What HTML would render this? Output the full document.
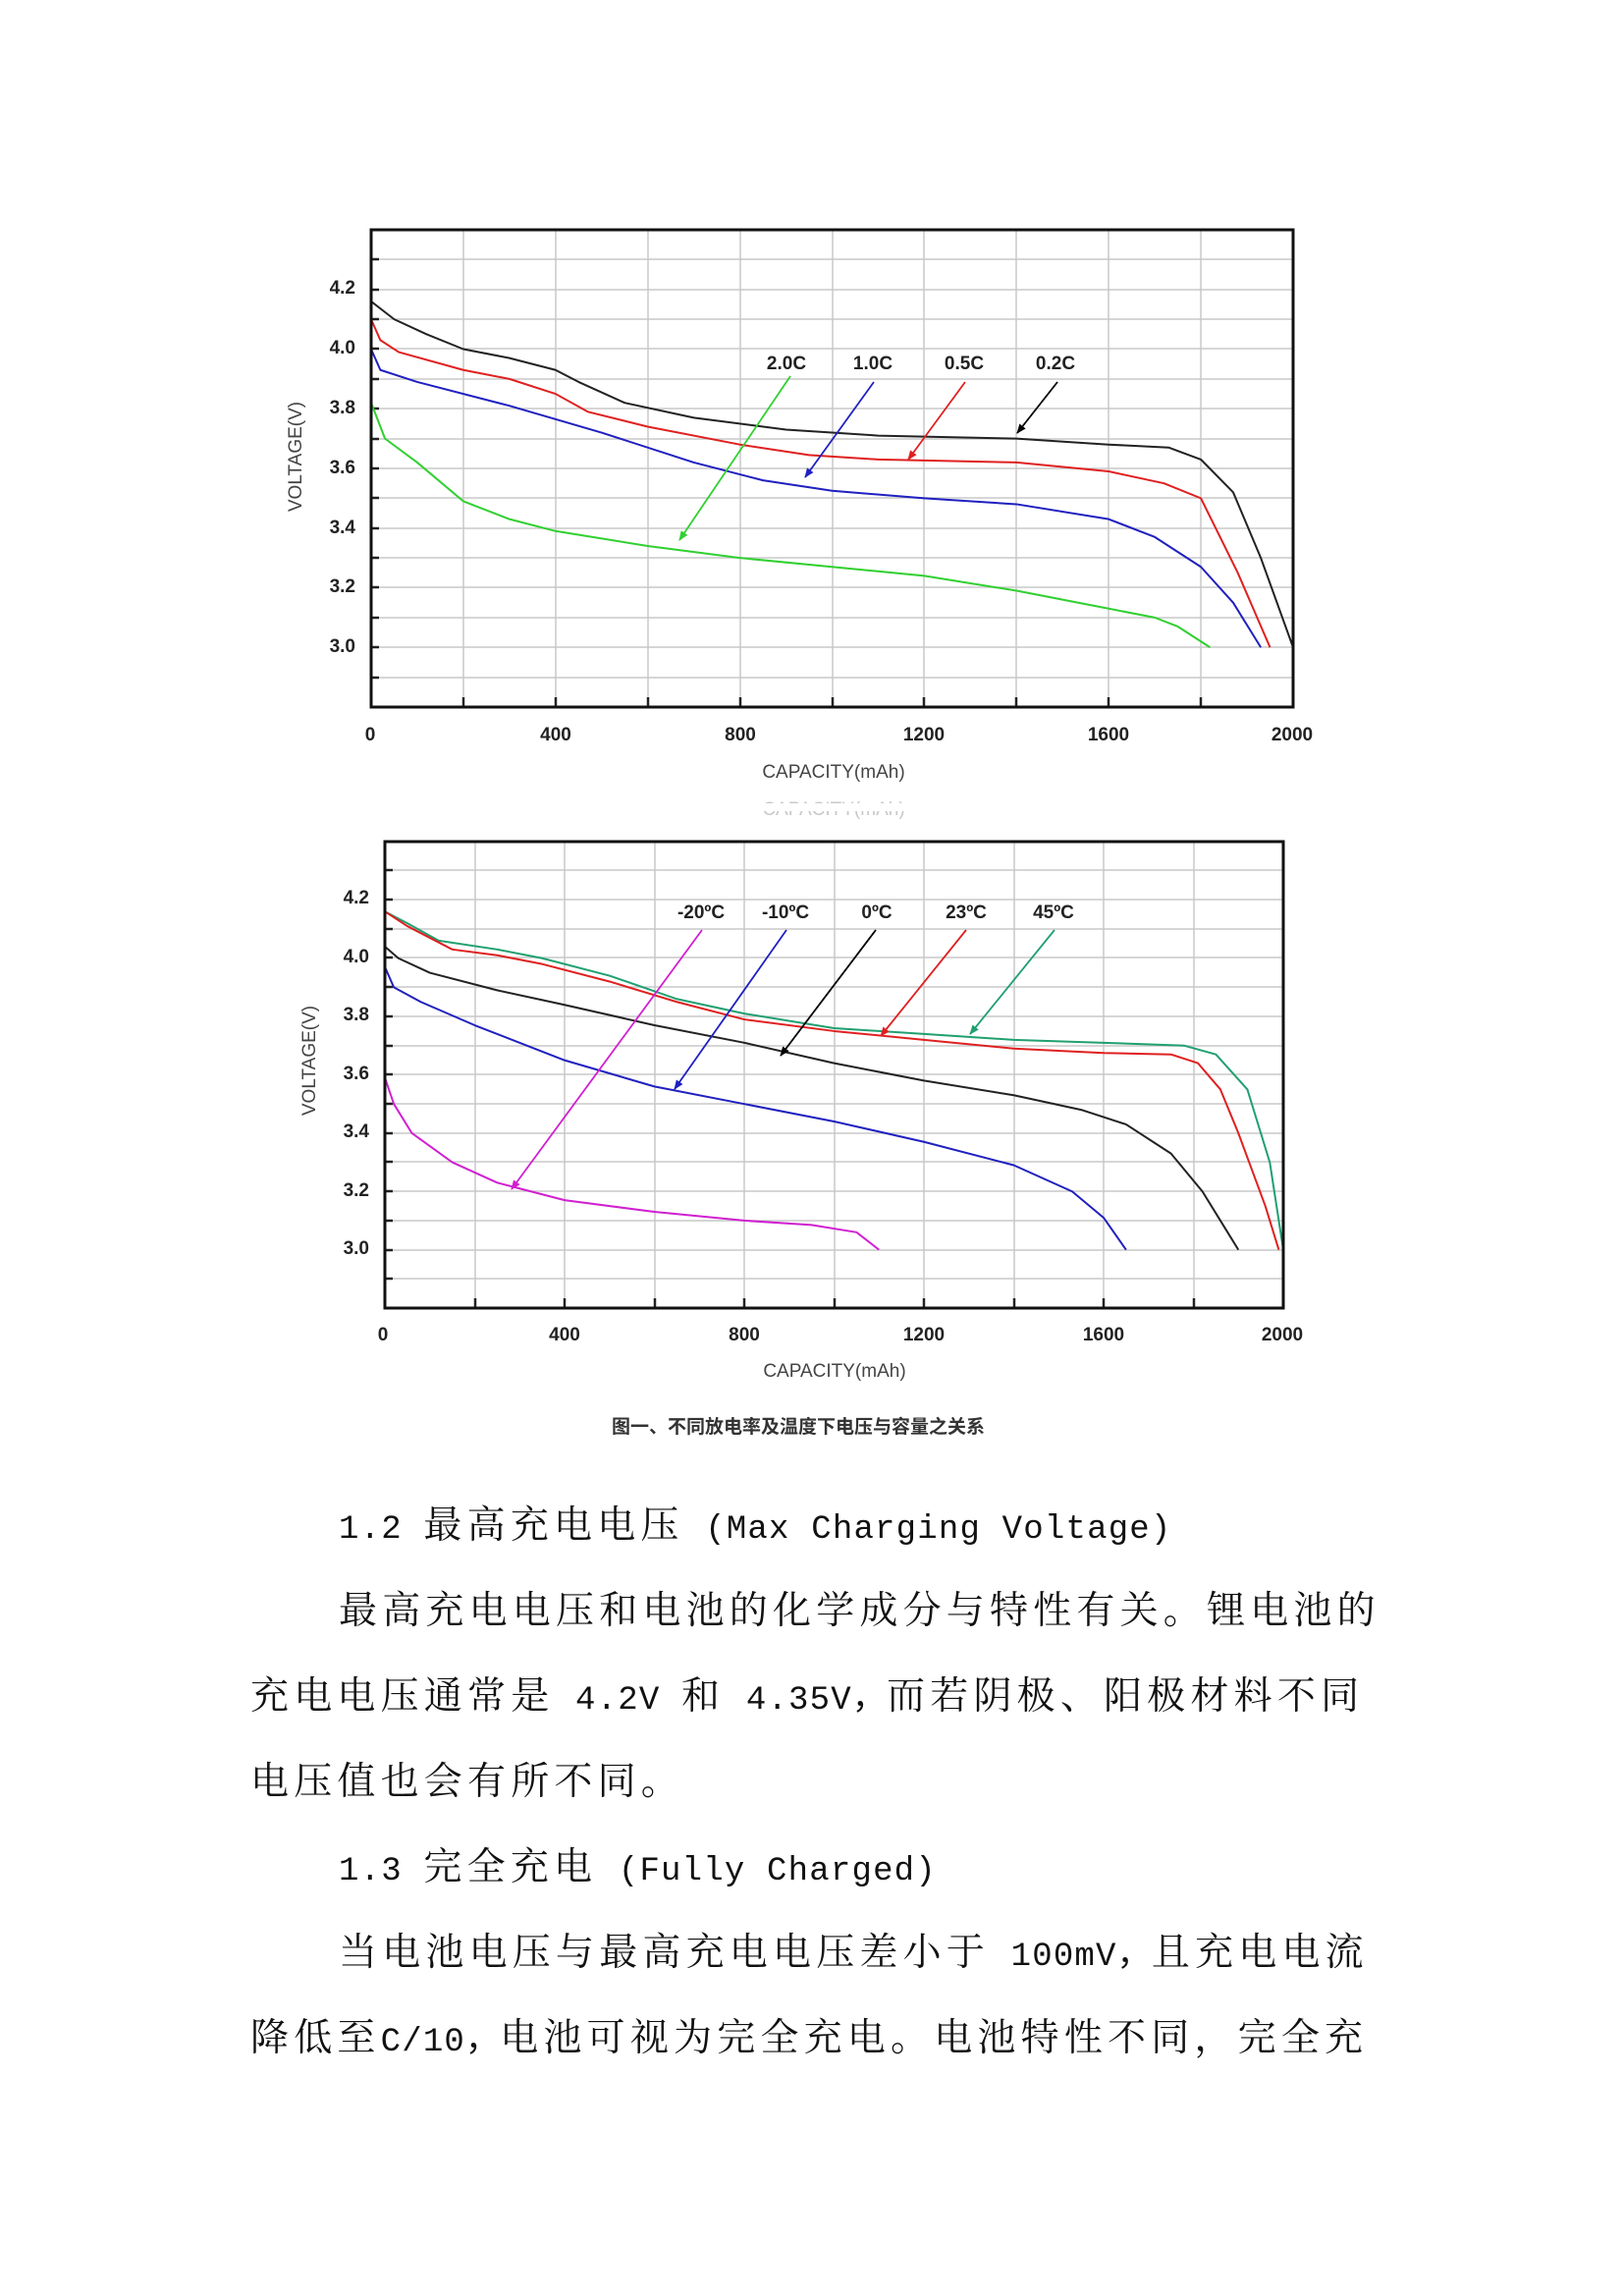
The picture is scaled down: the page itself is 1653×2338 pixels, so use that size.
<!DOCTYPE html>
<html><head><meta charset="utf-8"><style>
html,body{margin:0;padding:0;background:#fff}
body{width:1653px;height:2338px;position:relative;overflow:hidden}
.t{position:absolute;white-space:nowrap;font-family:"Liberation Serif","Noto Serif CJK SC",serif;font-size:39px;letter-spacing:5.2px;line-height:60px;color:#111}
.m{font-family:"Liberation Mono",monospace;font-size:34px;letter-spacing:1.2px}
svg text{font-family:"Liberation Sans",sans-serif}
.tk{font-size:19px;font-weight:bold;fill:#222}
.ax{font-size:19px;fill:#444}
</style></head><body>
<svg width="1653" height="1500" style="position:absolute;left:0;top:0">
<defs>
<marker id="a" markerWidth="8" markerHeight="8" refX="7" refY="4" orient="auto" markerUnits="userSpaceOnUse"><path d="M0,0L8,4L0,8z" fill="context-stroke"/></marker>
<marker id="ak" markerWidth="10" markerHeight="10" refX="9" refY="5" orient="auto" markerUnits="userSpaceOnUse"><path d="M0,1L10,5L0,9z" fill="#000"/></marker>
<marker id="ar" markerWidth="10" markerHeight="10" refX="9" refY="5" orient="auto" markerUnits="userSpaceOnUse"><path d="M0,1L10,5L0,9z" fill="#e02020"/></marker>
<marker id="ab" markerWidth="10" markerHeight="10" refX="9" refY="5" orient="auto" markerUnits="userSpaceOnUse"><path d="M0,1L10,5L0,9z" fill="#2020c0"/></marker>
<marker id="ag" markerWidth="10" markerHeight="10" refX="9" refY="5" orient="auto" markerUnits="userSpaceOnUse"><path d="M0,1L10,5L0,9z" fill="#30d030"/></marker>
<marker id="at" markerWidth="10" markerHeight="10" refX="9" refY="5" orient="auto" markerUnits="userSpaceOnUse"><path d="M0,1L10,5L0,9z" fill="#20a070"/></marker>
<marker id="am" markerWidth="10" markerHeight="10" refX="9" refY="5" orient="auto" markerUnits="userSpaceOnUse"><path d="M0,1L10,5L0,9z" fill="#d020d0"/></marker>
</defs>
<!-- CHART 1 -->
<g stroke="#c8c8c8" stroke-width="1.5">
<path d="M378,264H1317M378,295H1317M378,325H1317M378,355H1317M378,386H1317M378,416H1317M378,447H1317M378,477H1317M378,507H1317M378,538H1317M378,568H1317M378,598H1317M378,629H1317M378,659H1317M378,690H1317"/>
<path d="M472,234V720M566,234V720M660,234V720M754,234V720M848,234V720M941,234V720M1035,234V720M1129,234V720M1223,234V720"/>
</g>
<g stroke="#222" stroke-width="2.5">
<path d="M378,264h8M378,295h8M378,325h8M378,355h8M378,386h8M378,416h8M378,447h8M378,477h8M378,507h8M378,538h8M378,568h8M378,598h8M378,629h8M378,659h8M378,690h8"/>
<path d="M472,720v-10M566,720v-10M660,720v-10M754,720v-10M848,720v-10M941,720v-10M1035,720v-10M1129,720v-10M1223,720v-10"/>
</g>
<g transform="translate(378,720) scale(0.4695,-303.75)" fill="none" stroke-width="2" stroke-linejoin="round">
<polyline vector-effect="non-scaling-stroke" stroke="#222" points="0,1.36 50,1.30 120,1.25 200,1.20 300,1.17 400,1.13 450,1.09 550,1.02 700,0.97 900,0.93 1100,0.91 1400,0.90 1600,0.88 1730,0.87 1800,0.83 1870,0.72 1930,0.5 2000,0.2"/>
<polyline vector-effect="non-scaling-stroke" stroke="#e02020" points="0,1.3 20,1.23 60,1.19 200,1.13 300,1.10 400,1.05 470,0.99 600,0.94 800,0.88 950,0.845 1100,0.83 1400,0.82 1600,0.79 1720,0.75 1800,0.70 1880,0.45 1950,0.2"/>
<polyline vector-effect="non-scaling-stroke" stroke="#2020c0" points="0,1.2 20,1.13 100,1.09 300,1.01 500,0.92 700,0.82 850,0.76 1000,0.725 1200,0.70 1400,0.68 1600,0.63 1700,0.57 1800,0.47 1870,0.35 1930,0.2"/>
<polyline vector-effect="non-scaling-stroke" stroke="#30d030" points="0,1.02 30,0.90 100,0.82 200,0.69 300,0.63 400,0.59 600,0.54 800,0.50 1000,0.47 1200,0.44 1400,0.39 1600,0.33 1700,0.30 1750,0.27 1820,0.2"/>
</g>
<g stroke-width="1.8">
<line x1="805" y1="383" x2="692" y2="550" stroke="#30d030" marker-end="url(#ag)"/>
<line x1="890" y1="389" x2="820" y2="486" stroke="#2020c0" marker-end="url(#ab)"/>
<line x1="983" y1="389" x2="925" y2="468" stroke="#e02020" marker-end="url(#ar)"/>
<line x1="1077" y1="389" x2="1036" y2="441" stroke="#000" marker-end="url(#ak)"/>
</g>
<rect x="378" y="234" width="939" height="486" fill="none" stroke="#111" stroke-width="3"/>
<g class="tk" text-anchor="middle">
<text x="801" y="376">2.0C</text><text x="889" y="376">1.0C</text><text x="982" y="376">0.5C</text><text x="1075" y="376">0.2C</text>
</g>
<g class="tk" text-anchor="end">
<text x="362" y="299">4.2</text><text x="362" y="360">4.0</text><text x="362" y="421">3.8</text><text x="362" y="482">3.6</text><text x="362" y="543">3.4</text><text x="362" y="603">3.2</text><text x="362" y="664">3.0</text>
</g>
<g class="tk" text-anchor="middle">
<text x="377" y="754">0</text><text x="566" y="754">400</text><text x="754" y="754">800</text><text x="941" y="754">1200</text><text x="1129" y="754">1600</text><text x="1316" y="754">2000</text>
</g>
<text class="ax" x="849" y="792" text-anchor="middle">CAPACITY(mAh)</text>
<text class="ax" transform="translate(307,465) rotate(-90)" text-anchor="middle">VOLTAGE(V)</text>
<text class="ax" x="849" y="830" text-anchor="middle" fill="#bbb" style="fill:#c8c8c8">CAPACITY(mAh)</text>
<rect x="700" y="818" width="300" height="8" fill="#fff"/>

<!-- CHART 2 -->
<g stroke="#c8c8c8" stroke-width="1.5">
<path d="M392,886H1307M392,916H1307M392,946H1307M392,975H1307M392,1005H1307M392,1035H1307M392,1065H1307M392,1094H1307M392,1124H1307M392,1154H1307M392,1183H1307M392,1213H1307M392,1243H1307M392,1273H1307M392,1302H1307"/>
<path d="M484,857V1332M575,857V1332M667,857V1332M758,857V1332M850,857V1332M941,857V1332M1033,857V1332M1124,857V1332M1216,857V1332"/>
</g>
<g stroke="#222" stroke-width="2.5">
<path d="M392,886h8M392,916h8M392,946h8M392,975h8M392,1005h8M392,1035h8M392,1065h8M392,1094h8M392,1124h8M392,1154h8M392,1183h8M392,1213h8M392,1243h8M392,1273h8M392,1302h8"/>
<path d="M484,1332v-10M575,1332v-10M667,1332v-10M758,1332v-10M850,1332v-10M941,1332v-10M1033,1332v-10M1124,1332v-10M1216,1332v-10"/>
</g>
<g transform="translate(392,1332) scale(0.4575,-296.9)" fill="none" stroke-width="2" stroke-linejoin="round">
<polyline vector-effect="non-scaling-stroke" stroke="#20a070" points="0,1.36 50,1.32 120,1.26 250,1.23 350,1.20 500,1.14 650,1.06 800,1.01 1000,0.96 1200,0.94 1400,0.92 1600,0.91 1780,0.90 1850,0.87 1920,0.75 1970,0.50 2000,0.2"/>
<polyline vector-effect="non-scaling-stroke" stroke="#e02020" points="0,1.36 50,1.31 150,1.23 250,1.21 350,1.18 500,1.12 650,1.05 800,0.99 1000,0.95 1200,0.92 1400,0.89 1600,0.875 1750,0.87 1810,0.84 1860,0.75 1900,0.60 1960,0.35 1990,0.2"/>
<polyline vector-effect="non-scaling-stroke" stroke="#222" points="0,1.24 30,1.20 100,1.15 250,1.09 400,1.04 600,0.97 800,0.91 1000,0.84 1200,0.78 1400,0.73 1550,0.68 1650,0.63 1750,0.53 1820,0.40 1860,0.30 1900,0.2"/>
<polyline vector-effect="non-scaling-stroke" stroke="#2020c0" points="0,1.17 20,1.10 80,1.05 200,0.97 400,0.85 600,0.76 800,0.70 1000,0.64 1200,0.57 1400,0.49 1530,0.40 1600,0.31 1650,0.2"/>
<polyline vector-effect="non-scaling-stroke" stroke="#d020d0" points="0,0.79 20,0.70 60,0.60 150,0.50 250,0.43 300,0.41 400,0.37 600,0.33 800,0.30 950,0.285 1050,0.26 1100,0.2"/>
</g>
<g stroke-width="1.8">
<line x1="715" y1="947" x2="521" y2="1211" stroke="#d020d0" marker-end="url(#am)"/>
<line x1="801" y1="947" x2="687" y2="1109" stroke="#2020c0" marker-end="url(#ab)"/>
<line x1="892" y1="947" x2="795" y2="1075" stroke="#000" marker-end="url(#ak)"/>
<line x1="984" y1="947" x2="897" y2="1055" stroke="#e02020" marker-end="url(#ar)"/>
<line x1="1074" y1="947" x2="988" y2="1053" stroke="#20a070" marker-end="url(#at)"/>
</g>
<rect x="392" y="857" width="915" height="475" fill="none" stroke="#111" stroke-width="3"/>
<g class="tk" text-anchor="middle">
<text x="714" y="935">-20ºC</text><text x="800" y="935">-10ºC</text><text x="893" y="935">0ºC</text><text x="984" y="935">23ºC</text><text x="1073" y="935">45ºC</text>
</g>
<g class="tk" text-anchor="end">
<text x="376" y="920">4.2</text><text x="376" y="980">4.0</text><text x="376" y="1039">3.8</text><text x="376" y="1099">3.6</text><text x="376" y="1158">3.4</text><text x="376" y="1218">3.2</text><text x="376" y="1277">3.0</text>
</g>
<g class="tk" text-anchor="middle">
<text x="390" y="1365">0</text><text x="575" y="1365">400</text><text x="758" y="1365">800</text><text x="941" y="1365">1200</text><text x="1124" y="1365">1600</text><text x="1306" y="1365">2000</text>
</g>
<text class="ax" x="850" y="1402" text-anchor="middle">CAPACITY(mAh)</text>
<text class="ax" transform="translate(321,1080) rotate(-90)" text-anchor="middle">VOLTAGE(V)</text>
<text x="813" y="1459" text-anchor="middle" style="font-family:'Liberation Sans','Noto Sans CJK SC',sans-serif;font-size:19px;font-weight:bold;fill:#333">图一、不同放电率及温度下电压与容量之关系</text>
</svg>

<div class="t" style="left:345px;top:1524px"><span class="m">1.2 </span>最高充电电压<span class="m"> (Max Charging Voltage)</span></div>
<div class="t" style="left:345px;top:1611px">最高充电电压和电池的化学成分与特性有关。锂电池的</div>
<div class="t" style="left:255px;top:1698px">充电电压通常是<span class="m"> 4.2V </span>和<span class="m"> 4.35V，</span>而若阴极、阳极材料不同</div>
<div class="t" style="left:255px;top:1785px">电压值也会有所不同。</div>
<div class="t" style="left:345px;top:1872px"><span class="m">1.3 </span>完全充电<span class="m"> (Fully Charged)</span></div>
<div class="t" style="left:345px;top:1959px">当电池电压与最高充电电压差小于<span class="m"> 100mV，</span>且充电电流</div>
<div class="t" style="left:255px;top:2046px">降低至<span class="m">C/10，</span>电池可视为完全充电。电池特性不同，完全充</div>
</body></html>
